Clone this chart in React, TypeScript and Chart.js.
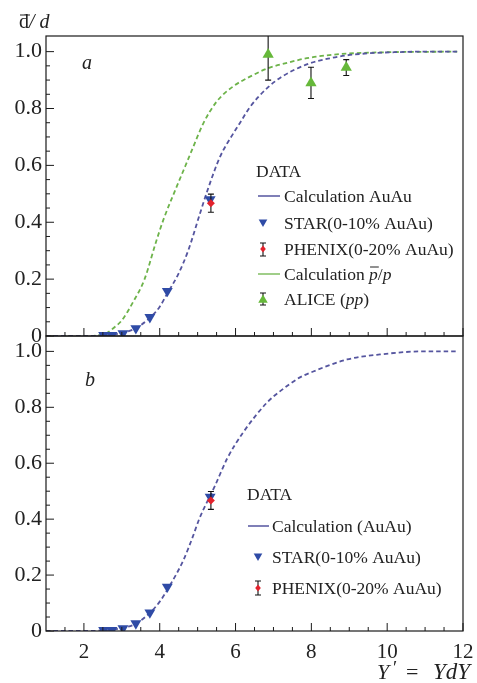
import React, { useEffect, useRef } from 'react';
import { Chart, registerables } from 'chart.js';

Chart.register(...registerables);

// ---------- axes ----------
const X_MIN = 1;
const X_MAX = 12;
const Y_MIN = 0;
const Y_MAX = 1.055;
const X_TICKS = [2, 4, 6, 8, 10, 12];
const Y_TICKS = [0, 0.2, 0.4, 0.6, 0.8, 1.0];
const X_MINOR: number[] = [];
for (let k = 3; k < 24; k++) { const v = k * 0.5; if (v % 2 !== 0) X_MINOR.push(v); }
const Y_MINOR: number[] = [];
for (let k = 1; k < 20; k++) { if (k % 4 !== 0) Y_MINOR.push(k * 0.05); }

// ---------- panel a : calculations ----------
const calcAuAuTopX = [1, 2, 2.4, 2.7, 3.0, 3.35, 3.74, 4.0, 4.2, 4.48, 4.75, 5.06, 5.28, 5.59, 5.93, 6.12, 6.38, 6.86, 7.2, 7.88, 8.5, 8.94, 9.5, 10.2, 11, 11.85];
const calcAuAuTopY = [0, 0, 0.001, 0.004, 0.01, 0.026, 0.064, 0.103, 0.15, 0.215, 0.3, 0.43, 0.52, 0.63, 0.71, 0.75, 0.805, 0.875, 0.91, 0.955, 0.977, 0.987, 0.994, 0.998, 1.0, 1.0];

const calcPPX = [1, 2.0, 2.4, 2.6, 2.8, 3.0, 3.3, 3.6, 3.9, 4.1, 4.45, 4.67, 4.89, 5.15, 5.5, 5.93, 6.38, 6.86, 7.4, 7.88, 8.4, 8.94, 10, 11.85];
const calcPPY = [0, 0, 0.003, 0.01, 0.03, 0.055, 0.12, 0.2, 0.33, 0.41, 0.526, 0.596, 0.667, 0.748, 0.824, 0.877, 0.912, 0.942, 0.962, 0.977, 0.987, 0.993, 0.998, 1.0];

// ---------- panel b : calculation ----------
const calcAuAuBotX = [1, 2, 2.4, 2.7, 3.0, 3.37, 3.73, 4.0, 4.22, 4.63, 4.88, 5.04, 5.46, 5.78, 6.2, 6.83, 7.17, 7.7, 8.05, 8.94, 9.81, 10.95, 11.85];
const calcAuAuBotY = [0, 0, 0.001, 0.004, 0.01, 0.026, 0.064, 0.105, 0.152, 0.255, 0.34, 0.4, 0.52, 0.617, 0.71, 0.817, 0.857, 0.907, 0.928, 0.971, 0.989, 1.0, 1.0];

// ---------- measurements ----------
const starX = [2.52, 2.74, 3.03, 3.37, 3.74, 4.2, 5.33];
const starY = [0.003, 0.003, 0.009, 0.027, 0.066, 0.158, 0.48];

const phenixX = [5.35];
const phenixY = [0.467];
const phenixErr = [0.032];

const aliceX = [6.86, 7.99, 8.92];
const aliceY = [0.99, 0.89, 0.944];
const aliceErr = [0.09, 0.055, 0.028];

// ---------- colours ----------
const BLUE_LINE = '#55559f';
const BLUE_MARK = '#2f4ba6';
const GREEN_LINE = '#6db34a';
const GREEN_MARK = '#66b83a';
const RED_MARK = '#e3222c';
const INK = '#222222';
const SERIF = '"Liberation Serif", "DejaVu Serif", serif';

const pts = (xs: number[], ys: number[]) => xs.map((x, i) => ({ x, y: ys[i] }));

function drawTriangle(ctx: CanvasRenderingContext2D, x: number, y: number, r: number, down: boolean, color: string) {
  ctx.save();
  ctx.fillStyle = color;
  ctx.beginPath();
  const s = down ? -1 : 1;
  ctx.moveTo(x, y - s * r);
  ctx.lineTo(x + r * 0.866, y + s * r * 0.5);
  ctx.lineTo(x - r * 0.866, y + s * r * 0.5);
  ctx.closePath();
  ctx.fill();
  ctx.restore();
}

function drawErrMark(ctx: CanvasRenderingContext2D, x: number, y1: number, y2: number) {
  ctx.save();
  ctx.strokeStyle = '#111';
  ctx.lineWidth = 1.1;
  ctx.beginPath();
  ctx.moveTo(x, y1); ctx.lineTo(x, y2);
  ctx.moveTo(x - 3, y1); ctx.lineTo(x + 3, y1);
  ctx.moveTo(x - 3, y2); ctx.lineTo(x + 3, y2);
  ctx.stroke();
  ctx.restore();
}

function drawDiamond(ctx: CanvasRenderingContext2D, x: number, y: number, r: number, color: string) {
  ctx.save();
  ctx.fillStyle = color;
  ctx.beginPath();
  ctx.moveTo(x, y - r); ctx.lineTo(x + r * 0.8, y); ctx.lineTo(x, y + r); ctx.lineTo(x - r * 0.8, y);
  ctx.closePath();
  ctx.fill();
  ctx.restore();
}

type Run = { t: string; f: string; over?: boolean };
function drawRuns(ctx: CanvasRenderingContext2D, x: number, y: number, runs: Run[]) {
  let cx = x;
  runs.forEach(r => {
    ctx.font = r.f;
    ctx.fillText(r.t, cx, y);
    const w = ctx.measureText(r.t).width;
    if (r.over) {
      ctx.save();
      ctx.strokeStyle = ctx.fillStyle as string;
      ctx.lineWidth = 1;
      ctx.beginPath();
      ctx.moveTo(cx + 1, y - 13);
      ctx.lineTo(cx + w + 1, y - 13);
      ctx.stroke();
      ctx.restore();
    }
    cx += w;
  });
}

const decorPlugin = {
  id: 'decor',
  beforeDatasetDraw(chart: any, args: any) {
    const ds = chart.data.datasets[args.index];
    if (!ds.errors) return;
    const xs = chart.scales.x;
    const ys = chart.scales[ds.yAxisID];
    const ctx = chart.ctx as CanvasRenderingContext2D;
    const area = chart.chartArea;
    ctx.save();
    ctx.beginPath();
    ctx.rect(area.left, ys.top, area.right - area.left, ys.bottom - ys.top);
    ctx.clip();
    ds.data.forEach((p: any, i: number) => {
      const e = ds.errors[i];
      const px = xs.getPixelForValue(p.x);
      drawErrMark(ctx, px, ys.getPixelForValue(p.y + e), ys.getPixelForValue(p.y - e));
    });
    ctx.restore();
  },
  afterDraw(chart: any) {
    const ctx = chart.ctx as CanvasRenderingContext2D;
    const xs = chart.scales.x;
    const left = chart.chartArea.left;
    const right = chart.chartArea.right;
    ['yA', 'yB'].forEach(id => {
      const ys = chart.scales[id];
      ctx.save();
      ctx.strokeStyle = '#1a1a1a';
      ctx.lineWidth = 1.2;
      ctx.strokeRect(left, ys.top, right - left, ys.bottom - ys.top);
      ctx.lineWidth = 1;
      ctx.beginPath();
      Y_TICKS.forEach(v => { const p = ys.getPixelForValue(v); ctx.moveTo(left, p); ctx.lineTo(left + 8, p); });
      Y_MINOR.forEach(v => { const p = ys.getPixelForValue(v); ctx.moveTo(left, p); ctx.lineTo(left + 4, p); });
      X_TICKS.forEach(v => { const p = xs.getPixelForValue(v); ctx.moveTo(p, ys.bottom); ctx.lineTo(p, ys.bottom - 8); });
      X_MINOR.forEach(v => { const p = xs.getPixelForValue(v); ctx.moveTo(p, ys.bottom); ctx.lineTo(p, ys.bottom - 4); });
      ctx.stroke();
      ctx.restore();
    });

    const R = `17.5px ${SERIF}`;
    const I = `italic 17.5px ${SERIF}`;
    ctx.save();
    ctx.fillStyle = INK;
    ctx.textBaseline = 'alphabetic';
    ctx.textAlign = 'left';

    // title
    drawRuns(ctx, 19, 28, [{ t: 'd', f: `20px ${SERIF}`, over: true }, { t: '/ ', f: `italic 20px ${SERIF}` }, { t: 'd', f: `italic 20px ${SERIF}` }]);
    // panel labels
    ctx.font = `italic 20px ${SERIF}`;
    ctx.fillText('a', 82, 69);
    ctx.fillText('b', 85, 386);

    // legend panel a
    ctx.font = R;
    ctx.fillText('DATA', 256, 177);
    ctx.save();
    ctx.strokeStyle = BLUE_LINE; ctx.lineWidth = 1.5;
    ctx.beginPath(); ctx.moveTo(258, 196); ctx.lineTo(280, 196); ctx.stroke();
    ctx.strokeStyle = GREEN_LINE; ctx.lineWidth = 1.3;
    ctx.beginPath(); ctx.moveTo(258, 274); ctx.lineTo(280, 274); ctx.stroke();
    ctx.restore();
    ctx.fillText('Calculation AuAu', 284, 202);
    drawTriangle(ctx, 263, 222, 5, true, BLUE_MARK);
    ctx.fillText('STAR(0-10% AuAu)', 284, 229);
    drawErrMark(ctx, 263, 243, 256);
    drawDiamond(ctx, 263, 249, 3.5, RED_MARK);
    ctx.fillText('PHENIX(0-20% AuAu)', 284, 255);
    drawRuns(ctx, 284, 280, [{ t: 'Calculation ', f: R }, { t: 'p', f: I, over: true }, { t: '/', f: R }, { t: 'p', f: I }]);
    drawErrMark(ctx, 263, 293, 305);
    drawTriangle(ctx, 263, 300, 5.5, false, GREEN_MARK);
    drawRuns(ctx, 284, 305, [{ t: 'ALICE (', f: R }, { t: 'pp', f: I }, { t: ')', f: R }]);

    // legend panel b
    ctx.font = R;
    ctx.fillText('DATA', 247, 500);
    ctx.save();
    ctx.strokeStyle = BLUE_LINE; ctx.lineWidth = 1.5;
    ctx.beginPath(); ctx.moveTo(248, 526); ctx.lineTo(269, 526); ctx.stroke();
    ctx.restore();
    ctx.fillText('Calculation (AuAu)', 272, 532);
    drawTriangle(ctx, 258, 556, 5, true, BLUE_MARK);
    ctx.fillText('STAR(0-10% AuAu)', 272, 563);
    drawErrMark(ctx, 258, 581, 595);
    drawDiamond(ctx, 258, 588, 3.5, RED_MARK);
    ctx.fillText('PHENIX(0-20% AuAu)', 272, 594);

    // x title
    ctx.font = `italic 22px ${SERIF}`;
    ctx.fillText('Y', 377, 679);
    ctx.font = `19px ${SERIF}`;
    ctx.fillText('\u2032', 393, 674);
    ctx.font = `22px ${SERIF}`;
    ctx.fillText('=', 406, 679);
    ctx.font = `italic 23px ${SERIF}`;
    ctx.fillText('YdY', 433, 679);
    ctx.restore();
  },
};

function yAxis(weight: number) {
  return {
    type: 'linear',
    position: 'left',
    stack: 'panels',
    stackWeight: weight,
    min: Y_MIN,
    max: Y_MAX,
    grid: { display: false, drawTicks: false },
    border: { display: false },
    ticks: {
      padding: 4,
      color: INK,
      font: { size: 22, family: SERIF },
      callback: (v: any) => (Number(v) === 0 ? '0' : Number(v).toFixed(1)),
    },
    afterBuildTicks: (s: any) => { s.ticks = Y_TICKS.map(v => ({ value: v })); },
    afterFit: (s: any) => { s.width = 46; s.paddingTop = 0; s.paddingBottom = 0; },
  };
}

export default function App() {
  const ref = useRef<HTMLCanvasElement | null>(null);
  useEffect(() => {
    if (!ref.current) return;
    const lineDs = (label: string, xs: number[], ys: number[], color: string, axis: string) => ({
      type: 'line', label, data: pts(xs, ys), yAxisID: axis, borderColor: color, borderWidth: 1.8,
      borderDash: [4.5, 3], pointRadius: 0, fill: false, cubicInterpolationMode: 'monotone', order: 3,
    });
    const chart = new Chart(ref.current, {
      type: 'scatter',
      data: {
        datasets: [
          lineDs('Calculation AuAu', calcAuAuTopX, calcAuAuTopY, BLUE_LINE, 'yA'),
          lineDs('Calculation pbar/p', calcPPX, calcPPY, GREEN_LINE, 'yA'),
          { label: 'STAR', data: pts(starX, starY), yAxisID: 'yA', pointStyle: 'triangle', rotation: 180, pointRadius: 6.3, backgroundColor: BLUE_MARK, borderWidth: 0, order: 2 },
          { label: 'ALICE', data: pts(aliceX, aliceY), yAxisID: 'yA', pointStyle: 'triangle', pointRadius: 6.5, backgroundColor: GREEN_MARK, borderWidth: 0, order: 2, errors: aliceErr } as any,
          { label: 'PHENIX', data: pts(phenixX, phenixY), yAxisID: 'yA', pointStyle: 'rectRot', pointRadius: 4, backgroundColor: RED_MARK, borderWidth: 0, order: 1, errors: phenixErr } as any,
          lineDs('Calculation (AuAu)', calcAuAuBotX, calcAuAuBotY, BLUE_LINE, 'yB'),
          { label: 'STAR b', data: pts(starX, starY), yAxisID: 'yB', pointStyle: 'triangle', rotation: 180, pointRadius: 6.3, backgroundColor: BLUE_MARK, borderWidth: 0, order: 2 },
          { label: 'PHENIX b', data: pts(phenixX, phenixY), yAxisID: 'yB', pointStyle: 'rectRot', pointRadius: 4, backgroundColor: RED_MARK, borderWidth: 0, order: 1, errors: phenixErr } as any,
        ] as any,
      },
      options: {
        animation: false,
        responsive: false,
        devicePixelRatio: 1,
        layout: { padding: { top: 36, right: 14, left: 0, bottom: 0 } },
        plugins: { legend: { display: false }, tooltip: { enabled: false } },
        scales: {
          x: {
            type: 'linear',
            min: X_MIN,
            max: X_MAX,
            grid: { display: false, drawTicks: false },
            border: { display: false },
            ticks: { padding: 9, color: INK, font: { size: 21, family: SERIF }, maxRotation: 0, autoSkip: false },
            afterBuildTicks: (s: any) => { s.ticks = X_TICKS.map(v => ({ value: v })); },
            afterFit: (s: any) => { s.height = 52; s.paddingLeft = 0; s.paddingRight = 0; },
          },
          yA: { ...yAxis(300), weight: 1 },
          yB: { ...yAxis(295), weight: 0 },
        } as any,
      },
      plugins: [decorPlugin as any],
    });
    return () => chart.destroy();
  }, []);
  return (
    <div style={{ position: 'absolute', left: 0, top: 0, width: 477, height: 683, background: '#ffffff' }}>
      <canvas ref={ref} width={477} height={683} style={{ width: 477, height: 683, display: 'block' }} />
    </div>
  );
}
